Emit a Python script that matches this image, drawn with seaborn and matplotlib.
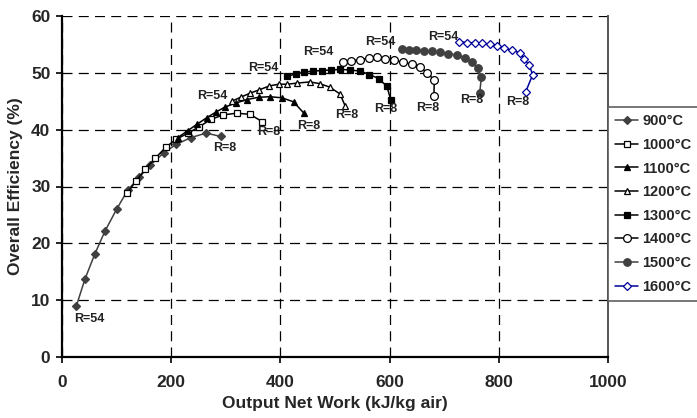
import matplotlib
matplotlib.use("Agg")
import matplotlib.pyplot as plt
import seaborn as sns

sns.set_theme(style="white")
plt.rcParams['font.family'] = ['Liberation Sans', 'DejaVu Sans']
plt.rcParams['font.weight'] = 'bold'

series_names = ["900°C", "1000°C", "1100°C", "1200°C", "1300°C", "1400°C", "1500°C", "1600°C"]

x900 = [26, 42, 60, 79, 100, 120, 141, 161, 186, 209, 236, 264, 291]
y900 = [8.9, 13.7, 18.1, 22.2, 26.0, 29.3, 31.6, 33.7, 35.9, 37.4, 38.6, 39.4, 38.8]

x1000 = [119, 135, 152, 171, 190, 209, 231, 251, 273, 295, 320, 344, 367]
y1000 = [28.8, 30.9, 33.0, 35.0, 36.9, 38.3, 39.4, 40.5, 41.8, 42.6, 42.9, 42.7, 41.4]

x1100 = [212, 230, 248, 265, 282, 299, 319, 339, 360, 381, 403, 424, 443]
y1100 = [38.6, 39.8, 41.0, 42.1, 43.1, 44.0, 44.7, 45.3, 45.7, 45.8, 45.6, 44.9, 42.9]

x1200 = [311, 327, 344, 361, 380, 397, 413, 431, 454, 472, 490, 509, 519]
y1200 = [45.0, 45.7, 46.4, 47.0, 47.7, 48.0, 48.0, 48.2, 48.4, 48.1, 47.5, 46.3, 44.1]

x1300 = [413, 428, 443, 459, 476, 492, 510, 528, 546, 563, 580, 595, 602]
y1300 = [49.4, 49.8, 50.1, 50.3, 50.4, 50.5, 50.6, 50.5, 50.3, 49.7, 49.0, 47.6, 45.3]

x1400 = [515, 530, 545, 562, 577, 591, 608, 624, 641, 656, 669, 682, 681]
y1400 = [51.9, 52.1, 52.3, 52.6, 52.7, 52.5, 52.2, 51.9, 51.5, 51.0, 50.0, 48.7, 45.9]

x1500 = [623, 635, 649, 663, 678, 693, 707, 723, 738, 750, 762, 768, 765]
y1500 = [54.2, 54.1, 54.1, 53.9, 53.8, 53.6, 53.4, 53.1, 52.6, 51.9, 50.8, 49.2, 46.4]

x1600 = [728, 742, 756, 770, 784, 796, 809, 824, 839, 846, 856, 862, 849]
y1600 = [55.5, 55.3, 55.3, 55.2, 55.0, 54.7, 54.35, 54.0, 53.5, 52.5, 51.3, 49.65, 46.6]

# R labels: text, x, y
r_texts = ["R=54", "R=8", "R=8", "R=8", "R=54", "R=8", "R=54", "R=8",
           "R=54", "R=8", "R=54", "R=8", "R=54", "R=8"]
r_x = [22, 277, 357, 431, 247, 501, 341, 571, 442, 648, 555, 730, 670, 813]
r_y = [6.7, 36.8, 39.6, 40.6, 45.9, 42.5, 50.8, 43.7, 53.7, 43.9, 55.5, 45.2, 56.3, 44.9]

xs = [x900, x1000, x1100, x1200, x1300, x1400, x1500, x1600]
ys = [y900, y1000, y1100, y1200, y1300, y1400, y1500, y1600]

styles = [
    dict(marker="D", color="#404040", mfc="#404040", ms=3.6),
    dict(marker="s", color="black", mfc="white", ms=4.8),
    dict(marker="^", color="black", mfc="black", ms=4.0),
    dict(marker="^", color="black", mfc="white", ms=5.0),
    dict(marker="s", color="black", mfc="black", ms=5.0),
    dict(marker="o", color="black", mfc="white", ms=5.6),
    dict(marker="o", color="#404040", mfc="#404040", ms=5.4),
    dict(marker="D", color="#000099", mfc="white", ms=4.4),
]

fig = plt.figure(figsize=(6.97, 4.18), dpi=100)
ax = fig.add_axes([62/697, 61/418, 546/697, 341/418])

for name, xv, yv, st in zip(series_names, xs, ys, styles):
    sns.lineplot(x=xv, y=yv, ax=ax, sort=False, estimator=None, label=name,
                 color=st["color"], marker=st["marker"], markersize=st["ms"],
                 markerfacecolor=st["mfc"], markeredgecolor=st["color"],
                 markeredgewidth=0.9, linewidth=1.1)

for t, tx, ty in zip(r_texts, r_x, r_y):
    ax.text(tx, ty, t, ha="left", va="center", fontsize=9, fontweight="bold", color="#222222")

ax.set_xlim(0, 1000)
ax.set_ylim(0, 60)
ax.set_xticks(range(0, 1001, 200))
ax.set_yticks(range(0, 61, 10))
ax.grid(True, color="black", linestyle=(0, (8, 5)), linewidth=0.9)
ax.set_axisbelow(True)

ax.spines["top"].set_visible(False)
ax.spines["left"].set_linewidth(1.6)
ax.spines["bottom"].set_linewidth(1.6)
ax.spines["left"].set_color("black")
ax.spines["bottom"].set_color("black")
ax.spines["right"].set_color("#555555")
ax.spines["right"].set_linewidth(1.4)

ax.tick_params(axis="both", direction="out", length=4.3, width=1.2, color="black",
               labelsize=12.5, bottom=True, left=True)
ax.tick_params(axis="x", pad=9)
ax.tick_params(axis="y", pad=4)
for lab in ax.get_xticklabels() + ax.get_yticklabels():
    lab.set_fontweight("bold")

ax.set_xlabel("Output Net Work (kJ/kg air)", fontsize=12.5, fontweight="bold", labelpad=4)
ax.set_ylabel("Overall Efficiency (%)", fontsize=12.5, fontweight="bold", labelpad=6)

leg = ax.legend(loc="upper left", bbox_to_anchor=(1.0, 0.733), borderaxespad=0,
                frameon=True, fancybox=False, fontsize=10.5, handlelength=1.55,
                handletextpad=0.3, labelspacing=0.66, borderpad=0.5)
leg.get_frame().set_edgecolor("#555555")
leg.get_frame().set_linewidth(1.4)
for txt in leg.get_texts():
    txt.set_fontweight("bold")

fig.savefig("out.png", dpi=100)
